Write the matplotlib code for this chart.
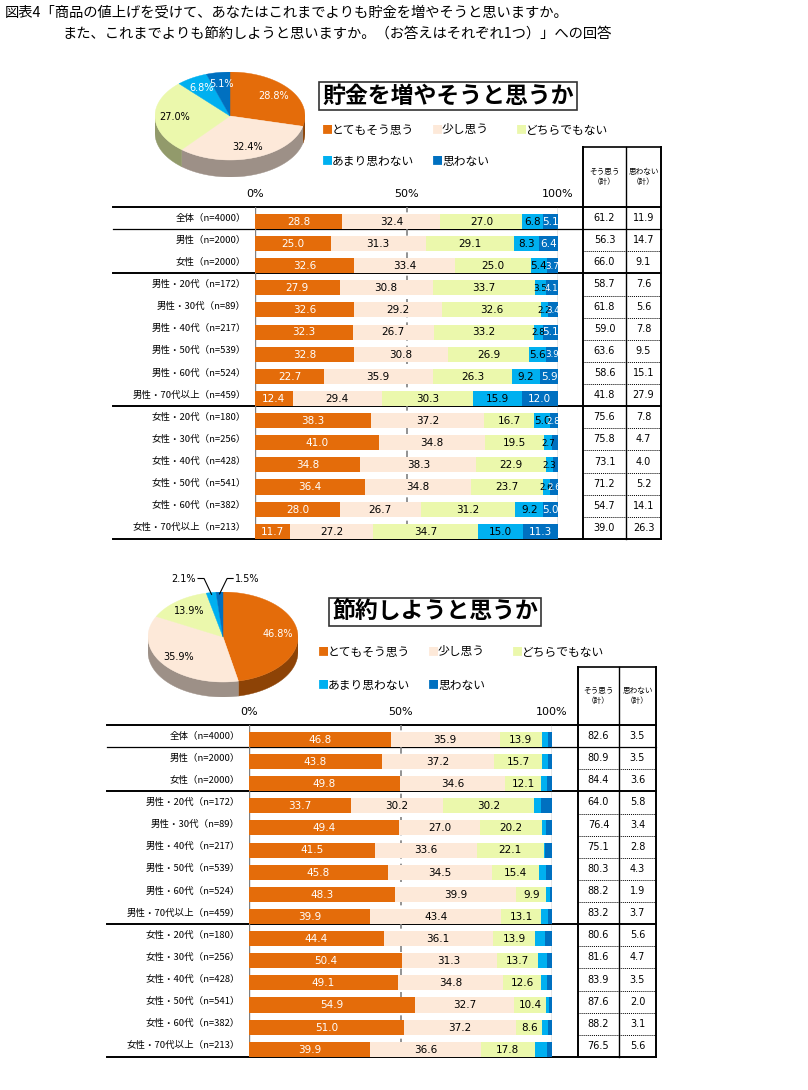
import numpy as np
import matplotlib
matplotlib.use("Agg")
import matplotlib.pyplot as plt
from matplotlib.patches import Polygon
from matplotlib import transforms
from matplotlib.colors import to_rgb

plt.rcParams['font.family'] = ['Noto Sans CJK JP', 'DejaVu Sans']

W, H = 808, 1090

CATEGORIES = ['とてもそう思う', '少し思う', 'どちらでもない', 'あまり思わない', '思わない']
COLORS = ['#E46C0A', '#FDE9D9', '#EBF8AC', '#00B0F0', '#0070C0']
TEXT_COLORS = ['white', 'black', 'black', 'black', 'white']

ROWS = ['全体（n=4000）', '男性（n=2000）', '女性（n=2000）',
        '男性・20代（n=172）', '男性・30代（n=89）', '男性・40代（n=217）',
        '男性・50代（n=539）', '男性・60代（n=524）', '男性・70代以上（n=459）',
        '女性・20代（n=180）', '女性・30代（n=256）', '女性・40代（n=428）',
        '女性・50代（n=541）', '女性・60代（n=382）', '女性・70代以上（n=213）']

# 貯金を増やそうと思うか
SAVE = [
    [28.8, 32.4, 27.0, 6.8, 5.1],
    [25.0, 31.3, 29.1, 8.3, 6.4],
    [32.6, 33.4, 25.0, 5.4, 3.7],
    [27.9, 30.8, 33.7, 3.5, 4.1],
    [32.6, 29.2, 32.6, 2.2, 3.4],
    [32.3, 26.7, 33.2, 2.8, 5.1],
    [32.8, 30.8, 26.9, 5.6, 3.9],
    [22.7, 35.9, 26.3, 9.2, 5.9],
    [12.4, 29.4, 30.3, 15.9, 12.0],
    [38.3, 37.2, 16.7, 5.0, 2.8],
    [41.0, 34.8, 19.5, 2.7, 2.0],
    [34.8, 38.3, 22.9, 2.3, 1.7],
    [36.4, 34.8, 23.7, 2.6, 2.6],
    [28.0, 26.7, 31.2, 9.2, 5.0],
    [11.7, 27.2, 34.7, 15.0, 11.3],
]
SAVE_YES = [61.2, 56.3, 66.0, 58.7, 61.8, 59.0, 63.6, 58.6, 41.8, 75.6, 75.8, 73.1, 71.2, 54.7, 39.0]
SAVE_NO = [11.9, 14.7, 9.1, 7.6, 5.6, 7.8, 9.5, 15.1, 27.9, 7.8, 4.7, 4.0, 5.2, 14.1, 26.3]

# 節約しようと思うか
THRIFT = [
    [46.8, 35.9, 13.9, 2.1, 1.5],
    [43.8, 37.2, 15.7, 2.0, 1.5],
    [49.8, 34.6, 12.1, 2.0, 1.6],
    [33.7, 30.2, 30.2, 2.3, 3.5],
    [49.4, 27.0, 20.2, 1.4, 2.0],
    [41.5, 33.6, 22.1, 0.5, 2.3],
    [45.8, 34.5, 15.4, 2.4, 1.9],
    [48.3, 39.9, 9.9, 1.1, 0.8],
    [39.9, 43.4, 13.1, 2.3, 1.4],
    [44.4, 36.1, 13.9, 3.3, 2.3],
    [50.4, 31.3, 13.7, 2.8, 1.9],
    [49.1, 34.8, 12.6, 1.9, 1.6],
    [54.9, 32.7, 10.4, 1.0, 1.0],
    [51.0, 37.2, 8.6, 2.0, 1.1],
    [39.9, 36.6, 17.8, 4.0, 1.6],
]
THRIFT_YES = [82.6, 80.9, 84.4, 64.0, 76.4, 75.1, 80.3, 88.2, 83.2, 80.6, 81.6, 83.9, 87.6, 88.2, 76.5]
THRIFT_NO = [3.5, 3.5, 3.6, 5.8, 3.4, 2.8, 4.3, 1.9, 3.7, 5.6, 4.7, 3.5, 2.0, 3.1, 5.6]

TITLE_1 = '図表4「商品の値上げを受けて、あなたはこれまでよりも貯金を増やそうと思いますか。'
TITLE_2 = 'また、これまでよりも節約しようと思いますか。（お答えはそれぞれ1つ）」への回答'

fig = plt.figure(figsize=(W / 100, H / 100), dpi=100)
canvas = fig.add_axes([0, 0, 1, 1], zorder=0)
canvas.set_xlim(0, W)
canvas.set_ylim(H, 0)
canvas.axis('off')


def box(x0, y0, x1, y1, **kw):
    return fig.add_axes([x0 / W, 1 - y1 / H, (x1 - x0) / W, (y1 - y0) / H], **kw)


def darker(c, f=0.62):
    r, g, b = to_rgb(c)
    return (r * f, g * f, b * f)


def draw_pie(values, cx, cy, rx, ry, depth):
    ax = box(cx - rx, cy - ry, cx + rx, cy + ry + depth, zorder=2)
    d = depth / ry
    ax.set_xlim(-1, 1)
    ax.set_ylim(-1 - d, 1)
    ax.axis('off')
    total = sum(values)
    edges = 90 - np.concatenate([[0], np.cumsum(values)]) / total * 360
    # side walls (front half only)
    for i, c in enumerate(COLORS):
        hi, lo = min(edges[i], 0), max(edges[i + 1], -180)
        if lo < hi:
            t = np.radians(np.linspace(hi, lo, 60))
            top = np.column_stack([np.cos(t), np.sin(t)])
            bot = top[::-1] - [0, d]
            ax.add_patch(Polygon(np.vstack([top, bot]), closed=True,
                                 fc=darker(c), ec=darker(c), lw=0.3))
    for i, c in enumerate(COLORS):
        t = np.radians(np.linspace(edges[i], edges[i + 1], 80))
        pts = np.vstack([[0, 0], np.column_stack([np.cos(t), np.sin(t)])])
        ax.add_patch(Polygon(pts, closed=True, fc=c, ec=c, lw=0.3))
    side = -1
    for i, v in enumerate(values):
        mid = np.radians((edges[i] + edges[i + 1]) / 2)
        if v >= 4:
            ax.text(0.74 * np.cos(mid), 0.74 * np.sin(mid), f'{v:.1f}%',
                    ha='center', va='center', fontsize=7, family='DejaVu Sans',
                    color=TEXT_COLORS[i] if i != 3 else 'white')
        else:
            ex, ey = 0.96 * np.cos(mid), 0.96 * np.sin(mid)
            ax.plot([ex, ex + side * 0.1, ex + side * 0.18], [ey, 1.3, 1.3],
                    color='black', lw=0.8, clip_on=False)
            ax.text(ex + side * 0.21, 1.3, f'{v:.1f}%', ha='right' if side < 0 else 'left',
                    va='center', fontsize=7, family='DejaVu Sans', clip_on=False)
            side = -side


def draw_section(data, yes, no, lay, show_small):
    (lx, lab_r, b0, b1, tc0, tc1, tc2, head_top, top, bottom) = lay
    n = len(ROWS)
    rh = (bottom - top) / n
    ax = box(b0, top, b1, bottom, zorder=1)
    ax.patch.set_alpha(0)
    ax.set_xlim(0, 100)
    ax.set_ylim(n, 0)
    ax.axis('off')
    ypos = np.arange(n) + 0.5
    vals = np.array(data)
    left = np.zeros(n)
    for j, c in enumerate(COLORS):
        ax.barh(ypos + 0.15, vals[:, j], left=left, height=0.68, color=c, zorder=3)
        for i in range(n):
            v = vals[i, j]
            if (j < 3 or show_small) and v >= 2.1:
                ax.text(left[i] + v / 2, ypos[i] + 0.17, f'{v:.1f}', ha='center', va='center',
                        fontsize=7.5 if v >= 4.5 else 6.3, family='DejaVu Sans',
                        color=TEXT_COLORS[j], zorder=4)
        left += vals[:, j]
    ax.axvline(50, color='#808080', lw=1.2, ls=(0, (4, 3)), zorder=1)
    ax.axvline(0, color='#808080', lw=1, zorder=1)
    ax.axvline(100, color='#808080', lw=1, zorder=1)
    for v in (0, 50, 100):
        ax.text(v, -0.6, f'{v}%', ha='center', va='center', fontsize=8,
                family='DejaVu Sans', clip_on=False)

    tr = transforms.blended_transform_factory(canvas.transData, ax.transData)
    for i in range(n):
        ax.text(lab_r, ypos[i], ROWS[i], transform=tr, ha='right', va='center', fontsize=6.8)
        ax.text((tc0 + tc1) / 2, ypos[i], f'{yes[i]:.1f}', transform=tr, ha='center',
                va='center', fontsize=7, family='DejaVu Sans')
        ax.text((tc1 + tc2) / 2, ypos[i], f'{no[i]:.1f}', transform=tr, ha='center',
                va='center', fontsize=7, family='DejaVu Sans')

    # table borders
    for k in range(n + 1):
        y = top + k * rh
        if k in (0, 3, 9, n):
            canvas.plot([lx, tc2], [y, y], color='black', lw=1.4, zorder=0)
        elif k == 1:
            canvas.plot([lx, tc2], [y, y], color='black', lw=0.9, zorder=0)
        else:
            canvas.plot([tc0, tc2], [y, y], color='black', lw=0.7, ls=(0, (1, 1)), zorder=0)
    canvas.plot([tc0, tc2], [head_top, head_top], color='black', lw=1.2)
    for x, lw in ((tc0, 1.4), (tc1, 1.0), (tc2, 1.4)):
        canvas.plot([x, x], [head_top, bottom], color='black', lw=lw)
    hy = (head_top + top) / 2
    canvas.text((tc0 + tc1) / 2, hy, 'そう思う\n（計）', ha='center', va='center',
                fontsize=5.5, linespacing=1.3)
    canvas.text((tc1 + tc2) / 2, hy, '思わない\n（計）', ha='center', va='center',
                fontsize=5.5, linespacing=1.3)


def draw_heading(text, cx, cy, ly1, ly2, cols):
    canvas.text(cx, cy, text, ha='center', va='center', fontsize=16.5, fontweight='bold',
                bbox=dict(boxstyle='square,pad=0.12', fc='white', ec='#333333', lw=1.2))
    spots = [(cols[0], ly1), (cols[1], ly1), (cols[2], ly1), (cols[0], ly2), (cols[1], ly2)]
    for (x, y), lab, c in zip(spots, CATEGORIES, COLORS):
        canvas.text(x, y, '■', color=c, ha='left', va='center', fontsize=8)
        canvas.text(x + 10, y, lab, ha='left', va='center', fontsize=8.5)


canvas.text(5, 13, TITLE_1, ha='left', va='center', fontsize=10.3)
canvas.text(62, 34, TITLE_2, ha='left', va='center', fontsize=10.3)

# section 1
draw_pie(SAVE[0], 230, 116, 75, 44, 17)
draw_heading('貯金を増やそうと思うか', 448, 96, 130, 161, (322, 432, 516))
draw_section(SAVE, SAVE_YES, SAVE_NO, (113, 246, 255, 558, 583, 626, 661, 147, 207, 539), True)

# section 2
draw_pie(THRIFT[0], 223, 637, 75, 45, 15)
draw_heading('節約しようと思うか', 435, 612, 652, 685, (318, 428, 512))
draw_section(THRIFT, THRIFT_YES, THRIFT_NO, (107, 240, 249, 552, 578, 619, 656, 667, 725, 1057), False)

fig.savefig('out.png', dpi=100)
